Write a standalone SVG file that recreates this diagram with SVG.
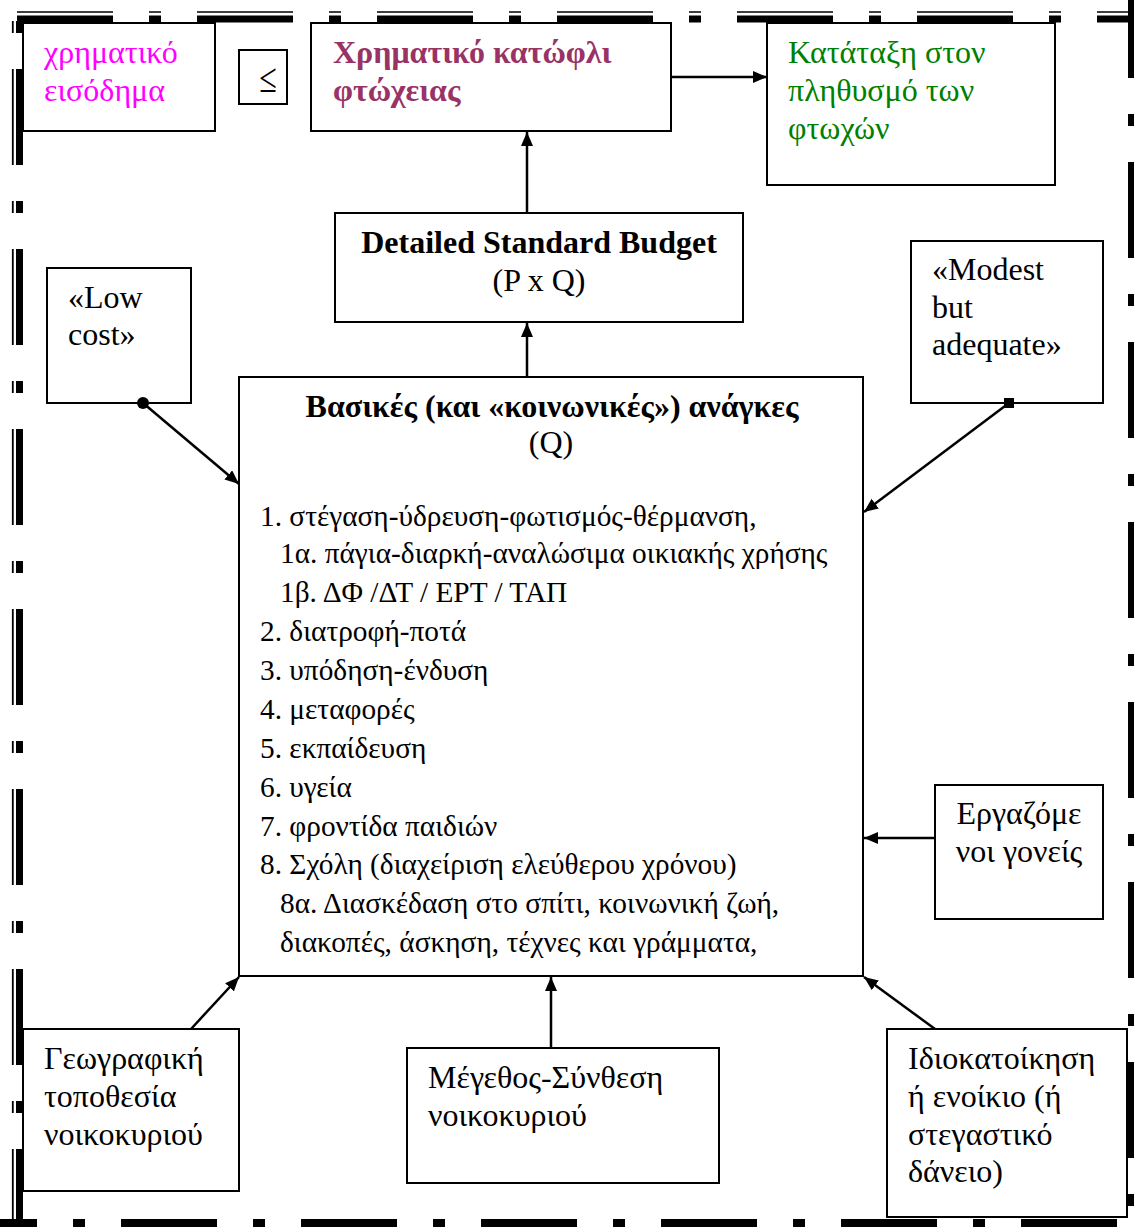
<svg xmlns="http://www.w3.org/2000/svg" width="1134" height="1227" viewBox="0 0 1134 1227">
<style>
.box{fill:#fff;stroke:#000;stroke-width:2}
.t{font-family:"Liberation Serif","Times New Roman",serif;font-size:32px;fill:#000}
.s{font-size:29.33px}
.b{font-weight:bold}
.c{text-anchor:middle}
.con{stroke:#000;stroke-width:2.5;fill:none}
.fr{fill:none;stroke:#000;stroke-dasharray:96 36 12 36}
</style>
<defs>
<marker id="ah" markerUnits="userSpaceOnUse" markerWidth="16" markerHeight="12" refX="14" refY="6" orient="auto">
<path d="M0,0 L14,6 L0,12 z" fill="#000"/>
</marker>
</defs>
<rect width="1134" height="1227" fill="#fff"/>
<g id="frame">
<path class="fr" d="M17,19 H1134" stroke-width="7"/>
<path class="fr" d="M17,12 H1134" stroke-width="1.6"/>
<path class="fr" d="M19.5,-111 V1227" stroke-width="7"/>
<path class="fr" d="M12.8,-111 V1227" stroke-width="1.8"/>
<path class="fr" d="M-59,1223 H1134" stroke-width="8"/>
<path class="fr" d="M1131.5,-18 V1227" stroke-width="7"/>
</g>
<g id="income">
<rect class="box" x="23" y="23" width="192" height="108"/>
<text class="t" x="44" y="63" style="fill:#ff00ff">χρηματικό</text>
<text class="t" x="44" y="101" style="fill:#ff00ff">εισόδημα</text>
</g>
<g id="leq">
<rect class="box" x="239" y="50" width="48" height="54"/>
<text class="t c" x="0" y="0" transform="translate(268,92) scale(1,1.3)">≤</text>
</g>
<g id="threshold">
<rect class="box" x="311" y="23" width="360" height="108"/>
<text class="t b" x="333" y="63" style="fill:#993366">Χρηματικό κατώφλι</text>
<text class="t b" x="333" y="101" style="fill:#993366">φτώχειας</text>
</g>
<g id="poor">
<rect class="box" x="767" y="23" width="288" height="162"/>
<text class="t" x="788" y="63" style="fill:#008000">Κατάταξη στον</text>
<text class="t" x="788" y="101" style="fill:#008000">πληθυσμό των</text>
<text class="t" x="788" y="139" style="fill:#008000">φτωχών</text>
</g>
<g id="budget">
<rect class="box" x="335" y="213" width="408" height="109"/>
<text class="t b c" x="539" y="253">Detailed Standard Budget</text>
<text class="t c" x="539" y="291">(P x Q)</text>
</g>
<g id="lowcost">
<rect class="box" x="47" y="268" width="144" height="135"/>
<text class="t" x="68" y="308">«Low</text>
<text class="t" x="68" y="345">cost»</text>
</g>
<g id="modest">
<rect class="box" x="911" y="241" width="192" height="162"/>
<text class="t" x="932" y="280">«Modest</text>
<text class="t" x="932" y="318">but</text>
<text class="t" x="932" y="355">adequate»</text>
</g>
<g id="needs">
<rect class="box" x="239" y="377" width="624" height="599"/>
<text class="t b c" x="552" y="417">Βασικές (και «κοινωνικές») ανάγκες</text>
<text class="t c" x="551" y="453">(Q)</text>
<text class="t s" x="260" y="526">1. στέγαση-ύδρευση-φωτισμός-θέρμανση,</text>
<text class="t s" x="280" y="563">1α. πάγια-διαρκή-αναλώσιμα οικιακής χρήσης</text>
<text class="t s" x="280" y="602">1β. ΔΦ /ΔΤ / ΕΡΤ / ΤΑΠ</text>
<text class="t s" x="260" y="641">2. διατροφή-ποτά</text>
<text class="t s" x="260" y="680">3. υπόδηση-ένδυση</text>
<text class="t s" x="260" y="719">4. μεταφορές</text>
<text class="t s" x="260" y="758">5. εκπαίδευση</text>
<text class="t s" x="260" y="797">6. υγεία</text>
<text class="t s" x="260" y="836">7. φροντίδα παιδιών</text>
<text class="t s" x="260" y="874">8. Σχόλη (διαχείριση ελεύθερου χρόνου)</text>
<text class="t s" x="280" y="913">8α. Διασκέδαση στο σπίτι, κοινωνική ζωή,</text>
<text class="t s" x="280" y="952">διακοπές, άσκηση, τέχνες και γράμματα,</text>
</g>
<g id="parents">
<rect class="box" x="935" y="785" width="168" height="134"/>
<text class="t c" x="1019" y="824">Εργαζόμε</text>
<text class="t c" x="1019" y="862">νοι γονείς</text>
</g>
<g id="geo">
<rect class="box" x="23" y="1029" width="216" height="162"/>
<text class="t" x="44" y="1069">Γεωγραφική</text>
<text class="t" x="44" y="1107">τοποθεσία</text>
<text class="t" x="44" y="1145">νοικοκυριού</text>
</g>
<g id="size">
<rect class="box" x="407" y="1048" width="312" height="135"/>
<text class="t" x="428" y="1088">Μέγεθος-Σύνθεση</text>
<text class="t" x="428" y="1126">νοικοκυριού</text>
</g>
<g id="tenure">
<rect class="box" x="887" y="1029" width="240" height="188"/>
<text class="t" x="908" y="1069">Ιδιοκατοίκηση</text>
<text class="t" x="908" y="1107">ή ενοίκιο (ή</text>
<text class="t" x="908" y="1145">στεγαστικό</text>
<text class="t" x="908" y="1182">δάνειο)</text>
</g>
<g id="connectors">
<line class="con" x1="671" y1="77" x2="767" y2="77" marker-end="url(#ah)"/>
<line class="con" x1="527" y1="213" x2="527" y2="132" marker-end="url(#ah)"/>
<line class="con" x1="527" y1="377" x2="527" y2="323" marker-end="url(#ah)"/>
<line class="con" x1="143" y1="403" x2="239" y2="484" marker-end="url(#ah)"/>
<circle cx="143" cy="403" r="6" fill="#000"/>
<line class="con" x1="1009" y1="403" x2="864" y2="512" marker-end="url(#ah)"/>
<rect x="1004" y="398" width="10" height="10" fill="#000"/>
<line class="con" x1="935" y1="838" x2="864" y2="838" marker-end="url(#ah)"/>
<line class="con" x1="191" y1="1029" x2="239" y2="977" marker-end="url(#ah)"/>
<line class="con" x1="551" y1="1048" x2="551" y2="977" marker-end="url(#ah)"/>
<line class="con" x1="935" y1="1029" x2="864" y2="977" marker-end="url(#ah)"/>
</g>
</svg>
